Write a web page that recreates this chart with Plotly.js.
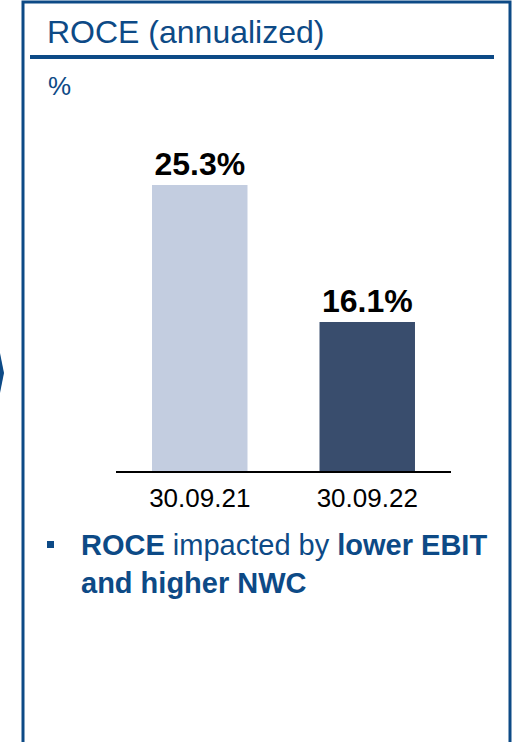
<!DOCTYPE html>
<html>
<head>
<meta charset="utf-8">
<script src="https://cdn.plot.ly/plotly-3.0.1.min.js"></script>
<style>
  html, body { margin: 0; padding: 0; background: #fff; }
  #roce_chart { width: 516px; height: 742px; }
</style>
</head>
<body>
<div id="roce_chart"></div>
<script>
var dates = ['30.09.21', '30.09.22'];
var roceValues = [25.3, 16.1];
var barColors = ['#C3CDE0', '#394D6D'];

var W = 516, H = 742;
var blue = '#0D4A86';
var font = 'Arial, "Liberation Sans", sans-serif';

// pixel helpers, margins are zero so paper == page
function px(x) { return x / W; }
function py(y) { return 1 - y / H; }

var bars = {
    x: dates,
    y: roceValues,
    type: 'bar',
    marker: {color: barColors},
    text: roceValues.map(function (v) { return v.toFixed(1) + '%'; }),
    textposition: 'outside',
    cliponaxis: false,
    textfont: {family: font, size: 32, color: '#000', weight: 'bold'},
    hoverinfo: 'skip'
};

var layout = {
    width: W,
    height: H,
    margin: {l: 0, r: 0, t: 0, b: 0},
    paper_bgcolor: '#fff',
    plot_bgcolor: 'rgba(0,0,0,0)',
    showlegend: false,
    bargap: 0.43,
    title: {
        text: 'ROCE (annualized)',
        font: {family: font, size: 32, color: blue},
        xref: 'paper', yref: 'paper',
        x: px(47), xanchor: 'left',
        y: py(32), yanchor: 'middle'
    },
    xaxis: {
        domain: [px(116), px(451)],
        range: [-0.5, 1.5],
        showline: true,
        linecolor: '#000',
        linewidth: 2,
        ticks: '',
        showgrid: false,
        zeroline: false,
        ticklabelstandoff: 3,
        tickfont: {family: font, size: 26, color: '#000'},
        fixedrange: true
    },
    yaxis: {
        domain: [py(471), py(100)],
        range: [6.1, 31.0],
        visible: false,
        showgrid: false,
        zeroline: false,
        fixedrange: true
    },
    annotations: [
        {
            text: '%',
            xref: 'paper', yref: 'paper',
            x: px(46), y: py(86),
            xanchor: 'left', yanchor: 'middle',
            showarrow: false,
            font: {family: font, size: 26, color: blue}
        },
        {
            text: '<b>ROCE</b> impacted by <b>lower EBIT</b><br><b>and higher NWC</b>',
            xref: 'paper', yref: 'paper',
            x: px(79), y: py(527),
            xanchor: 'left', yanchor: 'top',
            align: 'left',
            showarrow: false,
            font: {family: font, size: 29, color: blue}
        }
    ],
    shapes: [
        // outer frame
        {type: 'rect', xref: 'paper', yref: 'paper',
         x0: px(23), x1: px(510), y0: py(2), y1: py(760),
         line: {color: blue, width: 3}},
        // title rule
        {type: 'line', xref: 'paper', yref: 'paper',
         x0: px(30), x1: px(494), y0: py(57), y1: py(57),
         line: {color: blue, width: 4}},
        // bullet square
        {type: 'rect', xref: 'paper', yref: 'paper',
         x0: px(47), x1: px(54), y0: py(541), y1: py(548),
         fillcolor: blue, line: {width: 0}},
        // tip of the arrow from the panel on the left
        {type: 'path', xref: 'paper', yref: 'paper',
         path: 'M 0 ' + py(353) + ' L ' + px(2) + ' ' + py(363) + ' L ' + px(4) + ' ' + py(373) +
               ' L ' + px(2) + ' ' + py(383) + ' L 0 ' + py(393) + ' Z',
         fillcolor: blue, line: {width: 0}}
    ]
};

Plotly.newPlot('roce_chart', [bars], layout, {staticPlot: true, displaylogo: false});
</script>
</body>
</html>
